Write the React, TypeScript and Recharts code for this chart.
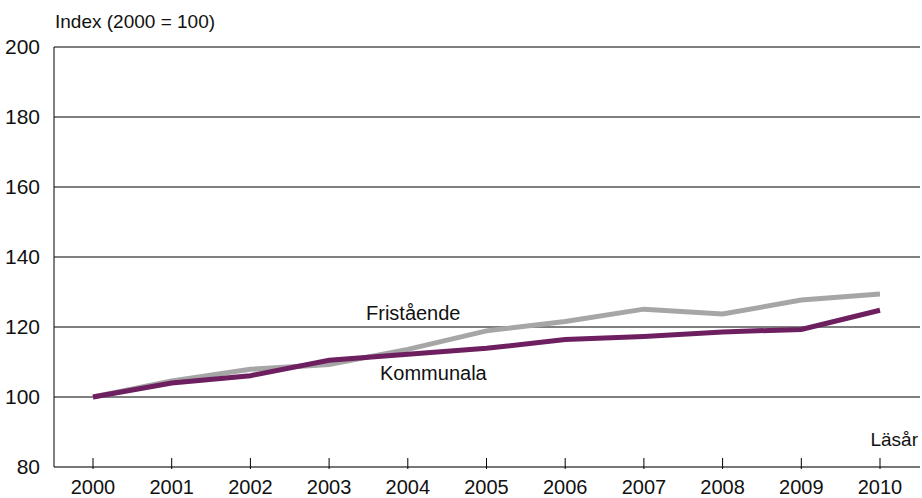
import { LineChart, Line, XAxis, YAxis, CartesianGrid } from "recharts";

const years = ["2000", "2001", "2002", "2003", "2004", "2005", "2006", "2007", "2008", "2009", "2010"];
const kommunala = [100, 104.0, 106.1, 110.5, 112.2, 113.9, 116.4, 117.3, 118.6, 119.3, 124.8];
const fristaende = [100, 104.6, 107.9, 109.3, 113.6, 118.9, 121.6, 125.1, 123.7, 127.7, 129.4];
const yTicks = [80, 100, 120, 140, 160, 180, 200];

const data = years.map((year, i) => ({
  year,
  kommunala: kommunala[i],
  fristaende: fristaende[i],
}));

const FONT = '"Liberation Sans", Arial, sans-serif';

function YearTick(props: any) {
  const { x, y, payload } = props;
  return (
    <g>
      <line x1={x} x2={x} y1={y - 11} y2={y} stroke="#000" strokeWidth={1} />
      <text x={x} y={y + 25} textAnchor="middle" fill="#111" fontSize={20} fontFamily={FONT}>
        {payload.value}
      </text>
    </g>
  );
}

const textStyle = {
  position: "absolute" as const,
  fontFamily: FONT,
  color: "#111",
  whiteSpace: "nowrap" as const,
  lineHeight: 1,
};

export default function App() {
  return (
    <div style={{ position: "absolute", left: 0, top: 0, width: 922, height: 498, background: "#fff" }}>
      <LineChart width={922} height={498} data={data} margin={{ top: 47, right: 2, left: 0, bottom: 0 }}>
        <CartesianGrid vertical={false} stroke="#000" strokeWidth={1} />
        <XAxis
          dataKey="year"
          height={31}
          padding={{ left: 39, right: 40 }}
          axisLine={{ stroke: "#777", strokeWidth: 2 }}
          tickLine={false}
          tickSize={0}
          tick={<YearTick />}
          interval={0}
        />
        <YAxis
          width={54}
          domain={[80, 200]}
          ticks={yTicks}
          axisLine={{ stroke: "#000", strokeWidth: 1 }}
          tickLine={false}
          tickMargin={8}
          tick={{ fill: "#111", fontSize: 21, fontFamily: FONT }}
        />
        <Line
          type="linear"
          dataKey="fristaende"
          stroke="#a6a6a6"
          strokeWidth={5}
          dot={false}
          isAnimationActive={false}
        />
        <Line
          type="linear"
          dataKey="kommunala"
          stroke="#6d1f5f"
          strokeWidth={5}
          dot={false}
          isAnimationActive={false}
        />
      </LineChart>
      <div style={{ ...textStyle, left: 55, top: 12, fontSize: 19 }}>Index (2000 = 100)</div>
      <div style={{ ...textStyle, right: 4, top: 430, fontSize: 19 }}>Läsår</div>
      <div style={{ ...textStyle, left: 366, top: 303, fontSize: 20 }}>Fristående</div>
      <div style={{ ...textStyle, left: 380, top: 363, fontSize: 20 }}>Kommunala</div>
    </div>
  );
}
